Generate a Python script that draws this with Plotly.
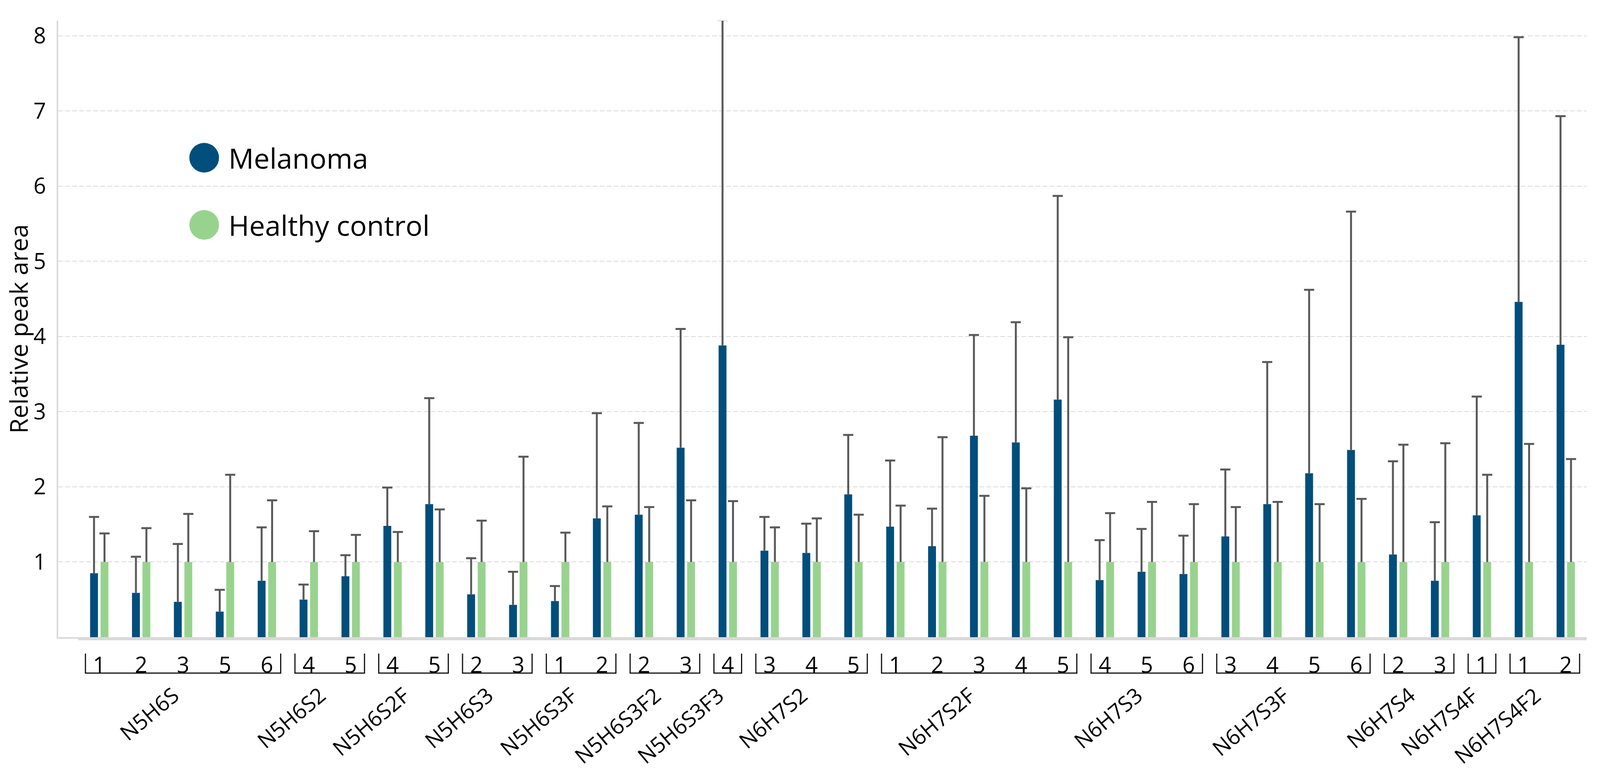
import plotly.graph_objects as go

# ---------------- data ----------------
groups = ["N5H6S", "N5H6S2", "N5H6S2F", "N5H6S3", "N5H6S3F", "N5H6S3F2", "N5H6S3F3",
          "N6H7S2", "N6H7S2F", "N6H7S3", "N6H7S3F", "N6H7S4", "N6H7S4F", "N6H7S4F2"]
subgroups = [[1, 2, 3, 5, 6], [4, 5], [4, 5], [2, 3], [1, 2], [2, 3], [4],
             [3, 4, 5], [1, 2, 3, 4, 5], [4, 5, 6], [3, 4, 5, 6], [2, 3], [1], [1, 2]]

melanoma_mean = [0.85, 0.59, 0.47, 0.34, 0.75, 0.50, 0.81, 1.48, 1.77, 0.57, 0.43, 0.48,
                 1.58, 1.63, 2.52, 3.88, 1.15, 1.12, 1.90, 1.47, 1.21, 2.68, 2.59, 3.16,
                 0.76, 0.87, 0.84, 1.34, 1.77, 2.18, 2.49, 1.10, 0.75, 1.62, 4.46, 3.89]
melanoma_sd = [0.75, 0.48, 0.77, 0.29, 0.71, 0.20, 0.28, 0.51, 1.41, 0.48, 0.44, 0.20,
               1.40, 1.22, 1.58, 4.33, 0.45, 0.39, 0.79, 0.88, 0.50, 1.34, 1.60, 2.71,
               0.53, 0.57, 0.51, 0.89, 1.89, 2.44, 3.17, 1.24, 0.78, 1.58, 3.52, 3.04]
control_mean = [1.0, 1.0, 1.0, 1.0, 1.0, 1.0, 1.0, 1.0, 1.0, 1.0, 1.0, 1.0,
                1.0, 1.0, 1.0, 1.0, 1.0, 1.0, 1.0, 1.0, 1.0, 1.0, 1.0, 1.0,
                1.0, 1.0, 1.0, 1.0, 1.0, 1.0, 1.0, 1.0, 1.0, 1.0, 1.0, 1.0]
control_sd = [0.38, 0.45, 0.64, 1.16, 0.82, 0.41, 0.36, 0.40, 0.70, 0.55, 1.40, 0.39,
              0.74, 0.73, 0.82, 0.81, 0.46, 0.58, 0.63, 0.75, 1.66, 0.88, 0.98, 2.99,
              0.65, 0.80, 0.77, 0.73, 0.80, 0.77, 0.84, 1.56, 1.58, 1.16, 1.57, 1.37]
series_names = ["Melanoma", "Healthy control"]
y_ticks = [1, 2, 3, 4, 5, 6, 7, 8]

# ---------------- style ----------------
DARK = "#004e7c"
GREEN = "#98d38e"
ERR = "#595959"
GRID = "#d9d9d9"
FONT = "Open Sans"

# the browser viewport is capped at 4096 px wide: compress horizontal layout
W, H = 4096, 1985
SX = W / 4365.0
ML, MR, MT, MB = round(159 * SX), round(36 * SX), 53, 353
PW, PH = W - ML - MR, H - MT - MB

x_idx, tick_text, group_ranges = [], [], []
k = 0
for g, subs in zip(groups, subgroups):
    start = k
    for s in subs:
        x_idx.append(k)
        tick_text.append(str(s))
        k += 1
    group_ranges.append((start, k - 1))
n = len(x_idx)
zeros = [0] * n

fig = go.Figure()
for name, color, mean, sd, og in zip(series_names, [DARK, GREEN],
                                     [melanoma_mean, control_mean],
                                     [melanoma_sd, control_sd], ["m", "c"]):
    # visible bar + error stem (upper only, no caps)
    fig.add_trace(go.Bar(
        x=x_idx, y=mean, name=name, marker_color=color, marker_line_width=0,
        offsetgroup=og,
        error_y=dict(type="data", array=sd, arrayminus=zeros, symmetric=False,
                     color=ERR, thickness=5, width=0),
        showlegend=False))
    # transparent carrier that draws only the cap at the top of the error bar
    tops = [m + s for m, s in zip(mean, sd)]
    fig.add_trace(go.Bar(
        x=x_idx, y=tops, name=name, marker_color="rgba(0,0,0,0)", marker_line_width=0,
        offsetgroup=og, hoverinfo="skip",
        error_y=dict(type="data", array=zeros, symmetric=True,
                     color=ERR, thickness=5, width=13),
        showlegend=False))

shapes = []
annotations = []

# thick light-grey baseline under the bars
shapes.append(dict(type="line", xref="x", yref="paper", x0=-0.5, x1=n - 0.5,
                   y0=-4 / PH, y1=-4 / PH, line=dict(color=GRID, width=8), layer="below"))

# group brackets and rotated group labels
y_top = -(1674 - (MT + PH)) / PH
y_bot = -(1724 - (MT + PH)) / PH
y_lab = -(1740 - (MT + PH)) / PH
for g, (a, b) in zip(groups, group_ranges):
    x0, x1 = a - 0.33, b + 0.33
    shapes.append(dict(type="path", xref="x", yref="paper",
                       path=f"M {x0},{y_top} L {x0},{y_bot} L {x1},{y_bot} L {x1},{y_top}",
                       line=dict(color="#111111", width=3)))
    annotations.append(dict(x=(a + b) / 2 + 0.06, y=y_lab, xref="x", yref="paper",
                            text=g, showarrow=False, textangle=-40,
                            xanchor="right", yanchor="top",
                            font=dict(family=FONT, size=55, color="#000000")))

# legend (manual, large circles)
cx = (557 * SX - ML) / PW
rx = 38 / PW
ry = 38 / PH
for name, color, ypx in zip(series_names, [DARK, GREEN], [404, 576]):
    cy = (MT + PH - ypx) / PH
    shapes.append(dict(type="circle", xref="paper", yref="paper",
                       x0=cx - rx, x1=cx + rx, y0=cy - ry, y1=cy + ry,
                       fillcolor=color, line=dict(width=0)))
    annotations.append(dict(x=(621 * SX - ML) / PW, y=cy, xref="paper", yref="paper",
                            text=name, showarrow=False, xanchor="left", yanchor="middle",
                            font=dict(family=FONT, size=72, color="#000000")))

# y-axis title
annotations.append(dict(x=(50 * SX - ML) / PW, y=0.5, xref="paper", yref="paper",
                        text="Relative peak area", showarrow=False, textangle=-90,
                        xanchor="center", yanchor="middle",
                        font=dict(family=FONT, size=63, color="#000000")))

fig.update_layout(
    width=W, height=H,
    margin=dict(l=ML, r=MR, t=MT, b=MB, pad=0),
    paper_bgcolor="white", plot_bgcolor="white",
    barmode="group", bargap=0.5, bargroupgap=0.25,
    font=dict(family=FONT, size=56, color="#000000"),
    shapes=shapes, annotations=annotations,
    showlegend=False,
)
fig.update_xaxes(
    range=[-0.98, n - 0.5], tickmode="array", tickvals=x_idx, ticktext=tick_text,
    showgrid=False, zeroline=False, showline=True, linecolor=GRID, linewidth=4,
    ticks="", ticklabelstandoff=20,
    tickfont=dict(family=FONT, size=56, color="#000000"),
)
fig.update_yaxes(
    range=[0, 8.2], tickmode="array", tickvals=y_ticks,
    showgrid=True, gridcolor=GRID, gridwidth=2, griddash="12px,6px",
    zeroline=False, showline=True, linecolor=GRID, linewidth=4,
    ticks="", ticklabelstandoff=16,
    tickfont=dict(family=FONT, size=56, color="#000000"),
)

post = "document.body.style.margin='0';document.documentElement.style.overflow='hidden';"
fig.write_html("out.html", post_script=post, config={"displayModeBar": False})
